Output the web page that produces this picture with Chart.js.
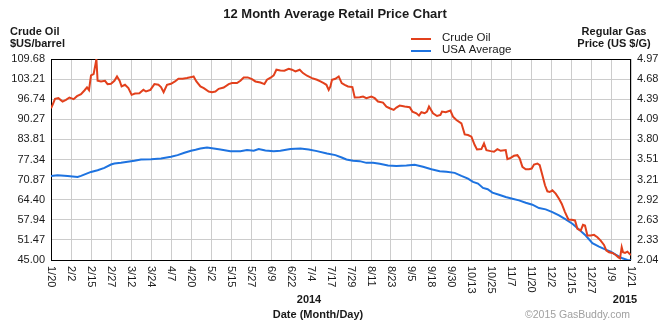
<!DOCTYPE html>
<html>
<head>
<meta charset="utf-8">
<title>12 Month Average Retail Price Chart</title>
<script src="https://cdn.jsdelivr.net/npm/chart.js@4.4.1/dist/chart.umd.min.js"></script>
<style>
  body { margin: 0; background: #fff; }
  #wrap { width: 670px; height: 325px; }
</style>
</head>
<body>
<div id="wrap"><canvas id="chart" width="670" height="325"></canvas></div>
<script>
// Tick labels (one per vertical grid line, evenly spaced)
const dateLabels = ['1/20', '2/2', '2/15', '2/27', '3/12', '3/24', '4/7', '4/20', '5/2', '5/15',
  '5/27', '6/9', '6/22', '7/4', '7/17', '7/29', '8/11', '8/23', '9/5', '9/18',
  '9/30', '10/13', '10/25', '11/7', '11/20', '12/2', '12/15', '12/27', '1/9', '1/21'];
const oilTicks = [45.00, 51.47, 57.94, 64.40, 70.87, 77.34, 83.81, 90.27, 96.74, 103.21, 109.68];
const gasTicks = [2.04, 2.33, 2.63, 2.92, 3.21, 3.51, 3.80, 4.09, 4.39, 4.68, 4.97];

// Crude oil ($US/barrel), x = position in date-label units
const oilX = [0, 0.08, 0.2, 0.37, 0.58, 0.75, 0.92, 1.13, 1.3, 1.5, 1.67, 1.8, 1.9, 2.0, 2.13, 2.22, 2.27, 2.33,
  2.5, 2.7, 2.83, 3.0, 3.17, 3.3, 3.43, 3.53, 3.7, 3.87, 4.03, 4.2, 4.42, 4.62, 4.75, 4.97, 5.17, 5.37,
  5.5, 5.63, 5.8, 6.0, 6.2, 6.37, 6.58, 6.8, 7.03, 7.13, 7.27, 7.47, 7.64, 7.885, 8.05, 8.22, 8.385,
  8.635, 8.885, 9.05, 9.3, 9.47, 9.635, 9.835, 10.05, 10.22, 10.47, 10.67, 10.8, 11.0, 11.135, 11.27,
  11.47, 11.67, 11.885, 12.05, 12.22, 12.435, 12.6, 12.8, 13.05, 13.3, 13.47, 13.635, 13.77, 13.885,
  13.97, 14.05, 14.22, 14.385, 14.535, 14.685, 14.85, 15.07, 15.185, 15.435, 15.6, 15.77, 16.02,
  16.185, 16.35, 16.6, 16.77, 16.935, 17.135, 17.27, 17.435, 17.685, 17.935, 18.07, 18.27, 18.4,
  18.52, 18.685, 18.8, 18.9, 19.1, 19.3, 19.47, 19.55, 19.735, 19.97, 20.1, 20.27, 20.52, 20.685,
  20.85, 21.02, 21.185, 21.3, 21.52, 21.65, 21.77, 21.985, 22.15, 22.32, 22.485, 22.735, 22.82,
  22.985, 23.15, 23.32, 23.435, 23.57, 23.735, 23.9, 24.035, 24.15, 24.32, 24.435, 24.57, 24.7,
  24.82, 24.935, 25.07, 25.235, 25.4, 25.535, 25.7, 25.87, 26.035, 26.2, 26.32, 26.485, 26.6, 26.7,
  26.82, 26.985, 27.15, 27.32, 27.485, 27.65, 27.77, 27.9, 28.07, 28.235, 28.37, 28.45, 28.535,
  28.6, 28.7, 28.82, 28.935, 29.0];
const oilPrice = [93.83, 94.91, 96.85, 97.07, 95.99, 96.53, 97.28, 96.74, 97.71, 98.36, 99.55, 100.52, 99.66,
  104.40, 104.83, 107.85, 109.68, 102.67, 102.46, 102.67, 101.60, 101.70, 102.67, 104.07, 102.67,
  100.84, 101.38, 100.30, 98.15, 98.58, 98.68, 99.76, 99.22, 99.76, 101.60, 101.38, 100.63, 99.01,
  101.38, 101.70, 102.46, 103.32, 103.32, 103.54, 103.86, 104.07, 102.46, 100.84, 100.30, 99.22,
  99.01, 99.22, 100.09, 100.52, 101.60, 101.92, 101.92, 102.67, 103.75, 103.75, 103.21, 102.46,
  102.13, 101.60, 103.00, 103.75, 104.40, 106.23, 106.01, 105.91, 106.55, 106.23, 105.69, 106.23,
  105.15, 104.29, 103.54, 103.00, 102.46, 101.92, 101.38, 99.76, 100.84, 103.00, 103.32, 104.07,
  101.92, 101.38, 100.84, 100.63, 97.28, 97.39, 97.61, 97.07, 97.61, 97.07, 95.99, 95.67, 94.37,
  93.83, 93.29, 94.05, 94.70, 94.37, 94.16, 92.76, 92.22, 91.46, 92.54, 92.22, 92.76, 94.37, 92.22,
  91.35, 91.68, 92.76, 92.54, 93.08, 91.14, 90.06, 88.98, 85.43, 85.21, 84.67, 81.98, 80.57, 80.68,
  82.51, 80.36, 80.04, 79.82, 80.68, 80.14, 80.36, 77.45, 77.88, 78.53, 78.74, 77.66, 74.97, 74.21,
  74.21, 74.43, 75.72, 76.05, 75.51, 72.27, 69.04, 67.10, 66.88, 67.42, 66.35, 64.73, 63.11, 60.42,
  58.05, 57.94, 57.72, 55.03, 54.49, 56.32, 56.10, 52.87, 52.87, 53.09, 52.33, 51.25, 49.85, 48.02,
  47.48, 47.26, 46.61, 45.86, 45.54, 49.10, 47.48, 47.26, 47.69, 46.94, 46.61];

// USA average regular gas (US $/G)
const gasX = [0, 0.33, 0.83, 1.33, 1.5, 1.75, 2.0, 2.33, 2.67, 3.0, 3.17, 3.5, 3.83, 4.17, 4.5, 5.0, 5.5,
  6.0, 6.33, 6.67, 7.0, 7.23, 7.47, 7.8, 8.135, 8.47, 8.97, 9.47, 9.8, 10.135, 10.385, 10.72, 11.135,
  11.47, 11.97, 12.47, 12.885, 13.3, 13.8, 14.22, 14.535, 14.77, 15.1, 15.435, 15.77, 16.1, 16.435,
  16.85, 17.27, 17.77, 18.185, 18.6, 19.02, 19.435, 19.77, 20.185, 20.52, 20.85, 21.1, 21.35, 21.6,
  21.835, 22.07, 22.4, 22.735, 23.07, 23.4, 23.735, 24.07, 24.4, 24.735, 25.07, 25.4, 25.735, 26.07,
  26.4, 26.735, 27.07, 27.4, 27.735, 27.985, 28.235, 28.57, 28.82, 29.0];
const gasPrice = [3.266, 3.276, 3.266, 3.251, 3.266, 3.295, 3.324, 3.349, 3.383, 3.432, 3.447, 3.456, 3.471,
  3.486, 3.506, 3.510, 3.520, 3.544, 3.569, 3.603, 3.632, 3.647, 3.666, 3.681, 3.666, 3.652, 3.627,
  3.627, 3.642, 3.632, 3.657, 3.637, 3.627, 3.632, 3.657, 3.666, 3.652, 3.627, 3.593, 3.569, 3.534,
  3.505, 3.486, 3.481, 3.456, 3.456, 3.442, 3.417, 3.412, 3.417, 3.427, 3.398, 3.364, 3.334, 3.325,
  3.310, 3.266, 3.227, 3.178, 3.154, 3.090, 3.071, 3.022, 2.992, 2.958, 2.934, 2.909, 2.875, 2.846,
  2.797, 2.778, 2.739, 2.690, 2.631, 2.568, 2.485, 2.397, 2.284, 2.236, 2.192, 2.162, 2.118, 2.065,
  2.040, 2.035];

const FONT = "'Liberation Sans', Arial, sans-serif";
const RED = '#e2401c';
const BLUE = '#1e73e0';
const TEXT = '#1a1a1a';

function toPoints(xs, ys) {
  return xs.map((x, i) => ({ x: x, y: ys[i] }));
}

// Plot frame, rotated date labels, titles and legend
const decorations = {
  id: 'decorations',
  beforeDatasetsDraw(chart) {
    const { ctx, chartArea: a } = chart;
    ctx.save();
    ctx.strokeStyle = '#000';
    ctx.lineWidth = 1;
    ctx.strokeRect(Math.round(a.left) + 0.5, Math.round(a.top) + 0.5,
      Math.round(a.right - a.left) - 1, Math.round(a.bottom - a.top));
    ctx.restore();
  },
  afterDraw(chart) {
    const ctx = chart.ctx;
    const xs = chart.scales.x;
    const a = chart.chartArea;
    ctx.save();
    ctx.fillStyle = TEXT;

    // date labels, rotated clockwise
    ctx.font = '11px ' + FONT;
    ctx.textAlign = 'left';
    ctx.textBaseline = 'middle';
    dateLabels.forEach((lab, i) => {
      ctx.save();
      ctx.translate(Math.round(xs.getPixelForValue(i)) + 0.5, a.bottom + 6);
      ctx.rotate(Math.PI / 2);
      ctx.fillText(lab, 0, 0);
      ctx.restore();
    });

    ctx.textBaseline = 'alphabetic';
    ctx.textAlign = 'center';
    ctx.font = 'bold 13px ' + FONT;
    ctx.fillText('12 Month Average Retail Price Chart', 335, 18);

    ctx.font = 'bold 11px ' + FONT;
    ctx.fillText('2014', xs.getPixelForValue(12.9), 303);
    ctx.fillText('2015', xs.getPixelForValue(28.7), 303);
    ctx.fillText('Date (Month/Day)', 318, 318);
    ctx.fillText('Regular Gas', 614, 35);
    ctx.fillText('Price (US $/G)', 614, 47);

    ctx.textAlign = 'left';
    ctx.fillText('Crude Oil', 10, 35);
    ctx.fillText('$US/barrel', 10, 47);

    // legend
    ctx.lineWidth = 2;
    ctx.strokeStyle = RED;
    ctx.beginPath(); ctx.moveTo(411, 39); ctx.lineTo(431, 39); ctx.stroke();
    ctx.strokeStyle = BLUE;
    ctx.beginPath(); ctx.moveTo(411, 51); ctx.lineTo(431, 51); ctx.stroke();
    ctx.font = '11.5px ' + FONT;
    ctx.textBaseline = 'middle';
    ctx.fillText('Crude Oil', 442, 38);
    ctx.fillText('USA Average', 442, 50);

    ctx.textBaseline = 'alphabetic';
    ctx.fillStyle = '#a0a0a0';
    ctx.font = '10.5px ' + FONT;
    ctx.fillText('\u00a92015 GasBuddy.com', 525, 318);
    ctx.restore();
  }
};

new Chart(document.getElementById('chart'), {
  type: 'line',
  data: {
    datasets: [
      {
        label: 'Crude Oil',
        data: toPoints(oilX, oilPrice),
        yAxisID: 'y',
        borderColor: RED,
        borderWidth: 2,
        pointRadius: 0,
        tension: 0
      },
      {
        label: 'USA Average',
        data: toPoints(gasX, gasPrice),
        yAxisID: 'y2',
        borderColor: BLUE,
        borderWidth: 2,
        pointRadius: 0,
        tension: 0
      }
    ]
  },
  options: {
    responsive: false,
    animation: false,
    events: [],
    layout: { padding: { top: 59, left: 0, right: 0, bottom: 0 } },
    plugins: { legend: { display: false }, title: { display: false }, tooltip: { enabled: false } },
    scales: {
      x: {
        type: 'linear',
        min: 0,
        max: dateLabels.length - 1,
        afterBuildTicks: s => { s.ticks = dateLabels.map((_, i) => ({ value: i })); },
        afterFit: s => { s.height = 65; },
        ticks: { display: false },
        grid: { color: '#cccccc', drawTicks: false },
        border: { display: false }
      },
      y: {
        position: 'left',
        min: oilTicks[0],
        max: oilTicks[oilTicks.length - 1],
        afterBuildTicks: s => { s.ticks = oilTicks.map(v => ({ value: v })); },
        afterFit: s => { s.width = 51; },
        ticks: {
          padding: 6,
          color: TEXT,
          font: { family: FONT, size: 11 },
          callback: v => v.toFixed(2)
        },
        grid: { color: '#cccccc', drawTicks: false },
        border: { display: false }
      },
      y2: {
        position: 'right',
        min: gasTicks[0],
        max: gasTicks[gasTicks.length - 1],
        afterBuildTicks: s => { s.ticks = gasTicks.map(v => ({ value: v })); },
        afterFit: s => { s.width = 39; },
        ticks: {
          padding: 6,
          color: TEXT,
          font: { family: FONT, size: 11 },
          callback: v => v.toFixed(2)
        },
        grid: { display: false, drawTicks: false },
        border: { display: false }
      }
    }
  },
  plugins: [decorations]
});
</script>
</body>
</html>
